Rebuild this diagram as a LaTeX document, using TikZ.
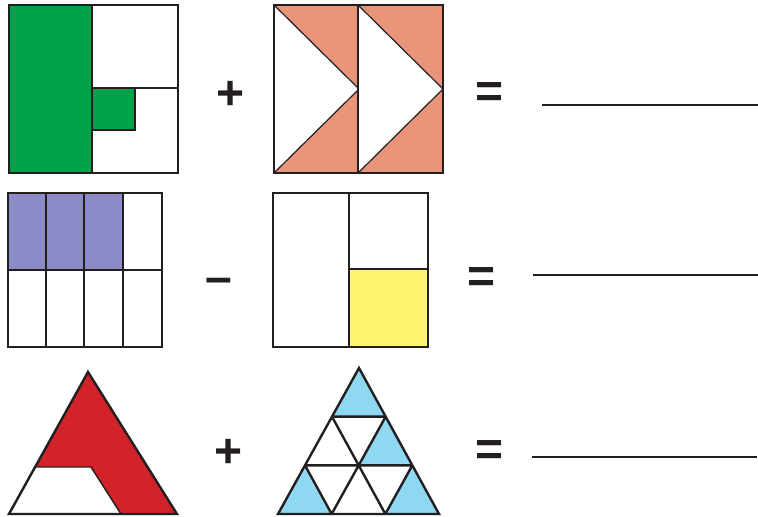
\documentclass[tikz,border=0pt]{standalone}
\usepackage{fontspec}
\usepackage{tikz}
\usetikzlibrary{calc}
\setmainfont{Liberation Sans}
\definecolor{inkline}{RGB}{35,31,32}
\definecolor{leafgreen}{RGB}{0,161,75}
\definecolor{salmon}{RGB}{232,149,122}
\definecolor{lavender}{RGB}{139,139,200}
\definecolor{lemon}{RGB}{255,244,110}
\definecolor{brickred}{RGB}{210,35,42}
\definecolor{skyblue}{RGB}{142,216,242}

\begin{document}
\begin{tikzpicture}[x=0.75pt, y=-0.75pt,
		outline/.style={draw=inkline, line width=1.8pt},
		thinline/.style={draw=inkline, line width=1.1pt},
		sign/.style={inner sep=0pt, text=inkline, font=\fontsize{36}{36}\selectfont\bfseries},
		blank/.style={draw=inkline, line width=1.5pt}
	]
	\useasboundingbox (0,0) rectangle (758,517);

	% row 1
	\fill[leafgreen] (9,5) rectangle (92,173);
	\fill[leafgreen] (92,88) rectangle (135,130);
	\draw[outline] (92,5) -- (92,173) (92,88) -- (178,88) (92,130) -- (135,130) -- (135,88);
	\draw[outline, line width=2.2pt] (9,5) rectangle (178,173);

	\fill[salmon] (274,5) rectangle (443,173);
	\foreach \x in {274,358} {
		\fill[white] (\x,5) -- (\x+85,89) -- (\x,173) -- cycle;
		\draw[thinline, line width=0.9pt] (\x,5) -- (\x+85,89) -- (\x,173);
	}
	\draw[thinline] (358,5) -- (358,173);
	\draw[outline] (274,5) rectangle (443,173);

	\node[sign] (plusA) at (231,95) {+};
	\node[sign] (eqA) at (490,95.5) {=};
	\draw[blank] (542,105) -- (758,105);

	% row 2
	\fill[lavender] (8,193) rectangle (123,270);
	\draw[thinline] (8,270) -- (162,270);
	\foreach \x in {46,84,123}
		\draw[thinline] (\x,193) -- (\x,347);
	\draw[outline] (8,193) rectangle (162,347);

	\fill[lemon] (349,269) rectangle (428,347);
	\draw[thinline] (349,193) -- (349,347) (349,269) -- (428,269);
	\draw[outline] (273,193) rectangle (428,347);

	\node[sign] (minusB) at (218.5,286) {\textendash};
	\node[sign] (eqB) at (481.5,280) {=};
	\draw[blank] (533,275) -- (758,275);

	% row 3
	\fill[brickred] (88,372) -- (9,514) -- (177,514) -- cycle;
	\filldraw[fill=white, thinline] (35,467) -- (91,467) -- (121,514) -- (9,514) -- cycle;
	\draw[outline, line join=miter] (88,372) -- (9,514) -- (177,514) -- cycle;

	\coordinate (top) at (359,368);
	\coordinate (left) at (278,514);
	\coordinate (right) at (439,514);
	\foreach \n/\t in {1/0.3333,2/0.6667} {
		\coordinate (l\n) at ($(top)!\t!(left)$);
		\coordinate (r\n) at ($(top)!\t!(right)$);
		\coordinate (b\n) at ($(left)!\t!(right)$);
	}
	\coordinate (m) at ($(l2)!0.5!(r2)$);
	\fill[skyblue] (top) -- (l1) -- (r1) -- cycle;
	\fill[skyblue] (r1) -- (m) -- (r2) -- cycle;
	\fill[skyblue] (l2) -- (left) -- (b1) -- cycle;
	\fill[skyblue] (r2) -- (b2) -- (right) -- cycle;
	\draw[outline] (l1) -- (r1) (l2) -- (r2)
		(l1) -- (b2) (l2) -- (b1) (r1) -- (b1) (r2) -- (b2);
	\draw[outline, line join=miter] (top) -- (left) -- (right) -- cycle;

	\node[sign] (plusC) at (229,453) {+};
	\node[sign] (eqC) at (490,453.5) {=};
	\draw[blank] (532,457) -- (757,457);
\end{tikzpicture}
\end{document}
